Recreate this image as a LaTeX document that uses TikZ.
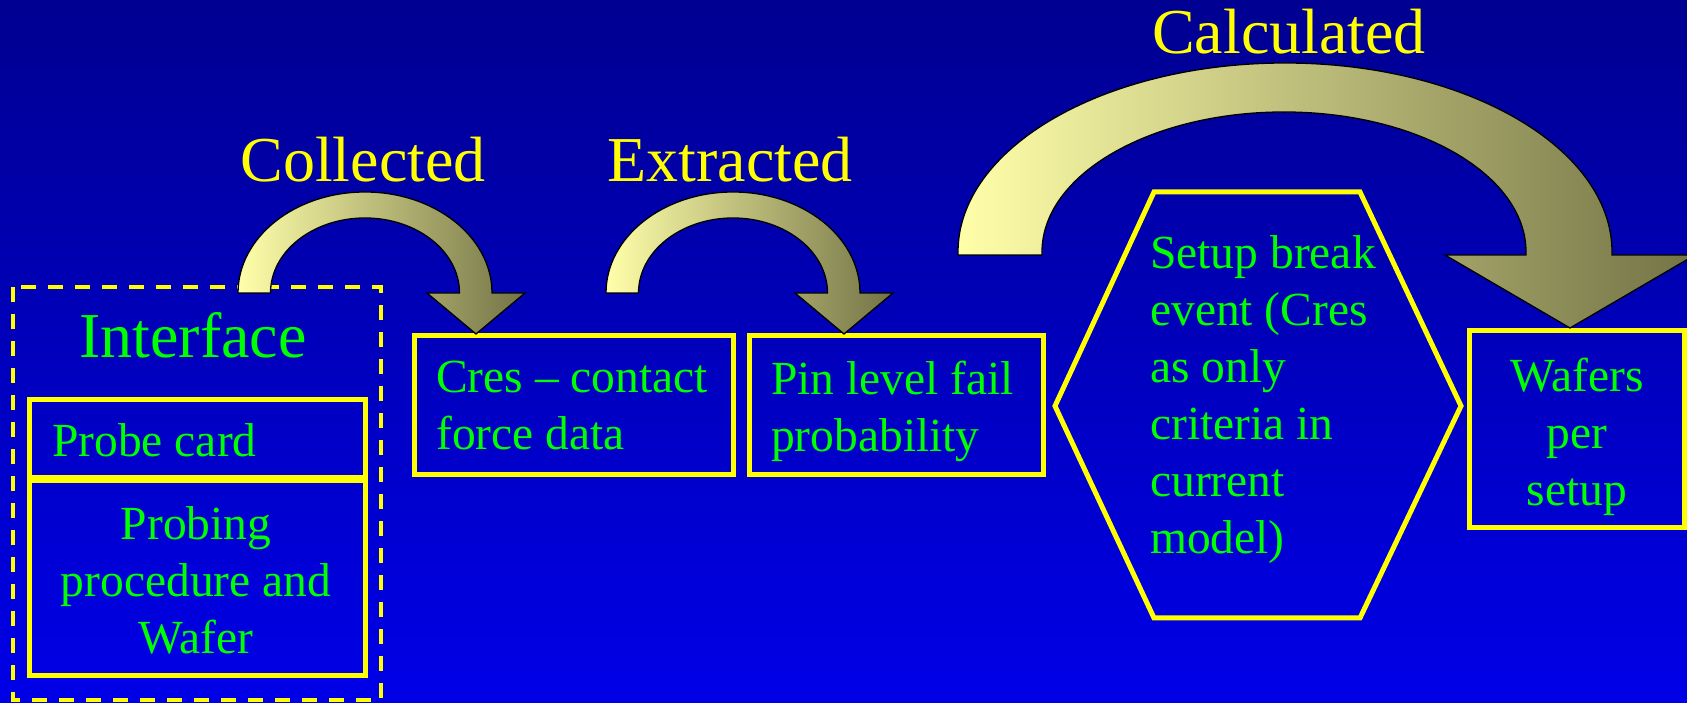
\documentclass[tikz,border=0pt]{standalone}
\usepackage{fontspec}
\setmainfont{Liberation Serif}
\definecolor{bgtop}{RGB}{0,0,145}
\definecolor{bgbot}{RGB}{0,0,232}
\definecolor{txtgreen}{RGB}{0,255,0}
\definecolor{lineyellow}{RGB}{255,255,0}
\definecolor{arrowL}{RGB}{255,255,170}
\definecolor{arrowR}{RGB}{115,115,70}
\tikzset{
  titletext/.style={font=\fontsize{64}{70}\selectfont, inner sep=0pt},
  bodytext/.style={font=\fontsize{47.5}{57}\selectfont, text=txtgreen, inner sep=0pt},
  boxline/.style={draw=lineyellow, line width=5pt},
  dashbox/.style={draw=lineyellow, line width=4pt, dash pattern=on 15pt off 12pt},
  blockarrow/.style={draw=black, line width=1.3pt, left color=arrowL, right color=arrowR, line join=miter},
}
\begin{document}
\begin{tikzpicture}[x=1pt,y=1pt]
\useasboundingbox (0,0) rectangle (1687,703);
\clip (0,0) rectangle (1687,703);
\shade[top color=bgtop, bottom color=bgbot] (0,0) rectangle (1687,703);

% Interface group
\draw[dashbox] (13,416) rectangle (381,3);
\node[titletext, text=txtgreen, anchor=base] (iface) at (193,345) {Interface};
\draw[boxline] (29.5,303.5) rectangle (365,225.5);
\draw[boxline] (29.5,222.5) rectangle (365,27.5);
\node[bodytext, anchor=base west] (probecard) at (52,246) {Probe card};
\node[bodytext, align=center, anchor=north] (probing) at (196,197) {Probing\\procedure and\\Wafer};

% Cres box
\draw[boxline] (414,367.5) rectangle (733.5,228.5);
\node[bodytext, align=left, anchor=north west] (cres) at (436,342) {Cres – contact\\force data};

% Pin box
\draw[boxline] (749.5,367.5) rectangle (1043.5,228.5);
\node[bodytext, align=left, anchor=north west] (pin) at (771,342) {Pin level fail\\probability};

% Hexagon
\draw[boxline, line join=miter] (1154,511) -- (1360,511) -- (1461,297) -- (1360,85) -- (1154,85) -- (1055,297) -- cycle;
\node[bodytext, align=left, anchor=north west] (setup) at (1150,468) {Setup break\\event (Cres\\as only\\criteria in\\current\\model)};

% Wafers box
\draw[boxline] (1469.5,372) rectangle (1684,175);
\node[bodytext, align=center, anchor=north] (wafers) at (1577,345) {Wafers\\per\\setup};

% Arrows
\path[blockarrow] (238,410) arc[start angle=180, end angle=0, x radius=127pt, y radius=101pt]
  -- (525,410) -- (476,369) -- (427,410) -- (459.5,410)
  arc[start angle=0, end angle=180, x radius=94.5pt, y radius=75pt] -- cycle;
\path[blockarrow] (606,410) arc[start angle=180, end angle=0, x radius=127pt, y radius=101pt]
  -- (893,410) -- (844,369) -- (795,410) -- (827.5,410)
  arc[start angle=0, end angle=180, x radius=94.5pt, y radius=75pt] -- cycle;
\path[blockarrow] (958,451) arc[start angle=180, end angle=0, x radius=327pt, y radius=189pt]
  -- (1612,448) -- (1695,448) -- (1570,375) -- (1445,448) -- (1526,448) -- (1526,451)
  arc[start angle=0, end angle=180, x radius=242pt, y radius=140pt] -- (1042,448) -- (958,448) -- cycle;

% Arrow labels
\node[titletext, text=lineyellow, anchor=base] (collected) at (363,521) {Collected};
\node[titletext, text=lineyellow, anchor=base] (extracted) at (730,521) {Extracted};
\node[titletext, text=lineyellow, anchor=base] (calculated) at (1289,649) {Calculated};
\end{tikzpicture}
\end{document}
